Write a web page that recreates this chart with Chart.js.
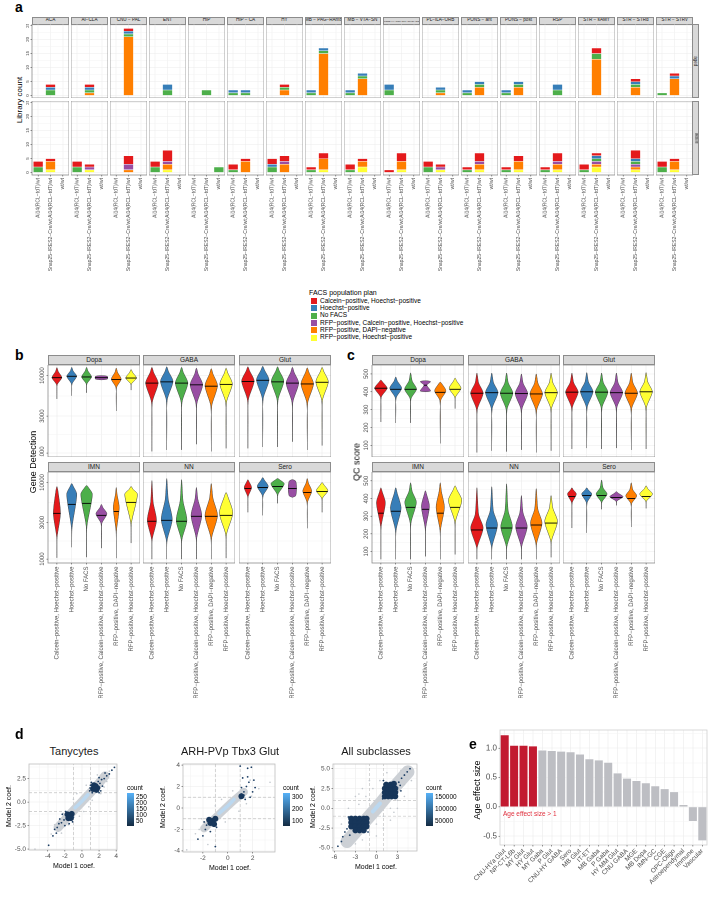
<!DOCTYPE html>
<html><head><meta charset="utf-8">
<script src="https://cdn.jsdelivr.net/npm/chart.js@4.4.1/dist/chart.umd.min.js"></script>
<style>
body{margin:0;background:#fff;}
#root{position:relative;width:714px;height:899px;overflow:hidden;font-family:"Liberation Sans",Arial,sans-serif;background:#fff;}
.t{position:absolute;white-space:nowrap;color:#000;line-height:1;}
.strip{position:absolute;background:#D9D9D9;border:0.8px solid #8C8C8C;box-sizing:border-box;display:flex;align-items:center;justify-content:center;color:#1A1A1A;overflow:hidden;white-space:nowrap;line-height:1;}
canvas{position:absolute;}
</style></head><body><div id="root"></div>
<script>
// ================= DATA =================
const facsPlans = ['Calcein−positive, Hoechst−positive','Hoechst−positive','No FACS','RFP−positive, Calcein−positive, Hoechst−positive','RFP−positive, DAPI−negative','RFP−positive, Hoechst−positive'];
const facsColors = ['#E41A1C','#377EB8','#4DAF4A','#984EA3','#FF7F00','#FFFF33'];

// panel a
const aRegions = ['ACA','AI−CLA','CNU − PAL','ENT','HIP','HIP − CA','HY','MB − PAG−RAmb','MB − VTA−SN','MB−PONS−HY−CNU−OLF−CTXsp−ISOCTX','PL−ILA−ORB','PONS − ant','PONS − post','RSP','STR − sAMY','STR − STRd','STR − STRv'];
const aGenotypes = ['Ai14(RCL−tdT)/wt','Snap25−IRES2−Cre/wt;Ai14(RCL−tdT)/wt','wt/wt'];
const aRowLabels = ['aged','adult'];
const aYTicks = [0,5,10,15,20,25];
// counts per region: [Ai14, Snap25, wt]
const aTopCalcein   = [[0,1,0],[0,1,0],[0,1,0],[0,0,0],[0,0,0],[0,0,0],[0,1,0],[0,0,0],[0,0,0],[0,0,0],[0,0,0],[0,0,0],[0,0,0],[0,0,0],[0,2,0],[0,1,0],[0,1,0]];
const aTopHoechst   = [[0,1,0],[0,1,0],[0,1,0],[0,2,0],[0,0,0],[1,1,0],[0,0,0],[1,1,0],[1,1,0],[2,0,0],[0,1,0],[1,1,0],[1,1,0],[0,2,0],[0,0,0],[0,1,0],[0,1,0]];
const aTopNoFacs    = [[0,2,0],[0,1,0],[0,1,0],[0,2,0],[0,2,0],[1,1,0],[0,1,0],[1,1,0],[1,1,0],[2,0,0],[0,1,0],[1,1,0],[1,1,0],[0,2,0],[0,2,0],[0,1,0],[1,0,0]];
const aTopRfpCalcein= [[0,0,0],[0,0,0],[0,0,0],[0,0,0],[0,0,0],[0,0,0],[0,0,0],[0,0,0],[0,0,0],[0,0,0],[0,0,0],[0,0,0],[0,0,0],[0,0,0],[0,0,0],[0,0,0],[0,0,0]];
const aTopRfpDapi   = [[0,0,0],[0,1,0],[0,21,0],[0,0,0],[0,0,0],[0,0,0],[0,2,0],[0,15,0],[0,6,0],[0,0,0],[0,1,0],[0,3,0],[0,3,0],[0,0,0],[0,13,0],[0,3,0],[0,6,0]];
const aTopRfpHoechst= [[0,0,0],[0,0,0],[0,0,0],[0,0,0],[0,0,0],[0,0,0],[0,0,0],[0,0,0],[0,0,0],[0,0,0],[0,0,0],[0,0,0],[0,0,0],[0,0,0],[0,0,0],[0,0,0],[0,0,0]];
const aBotCalcein   = [[2,1,0],[2,1,0],[0,3,0],[2,4,0],[0,0,0],[2,1,0],[2,2,0],[1,2,0],[2,1,0],[1,3,0],[2,1,0],[1,3,0],[1,2,0],[1,3,0],[2,1,0],[0,3,0],[2,1,0]];
const aBotHoechst   = [[0,0,0],[0,0,0],[0,0,0],[0,0,0],[0,0,0],[0,0,0],[1,0,0],[0,0,0],[0,0,0],[0,0,0],[0,0,0],[0,0,0],[0,0,0],[0,0,0],[0,1,0],[0,1,0],[0,0,0]];
const aBotNoFacs    = [[2,0,0],[2,0,0],[0,0,0],[2,0,0],[0,0,2],[1,0,0],[2,0,0],[1,0,0],[1,0,0],[0,0,0],[2,0,0],[1,0,0],[1,0,0],[1,0,0],[1,1,0],[0,1,0],[2,0,0]];
const aBotRfpCalcein= [[0,0,0],[0,1,0],[0,2,0],[0,1,0],[0,0,0],[0,0,0],[0,1,0],[0,0,0],[0,0,0],[0,0,0],[0,1,0],[0,1,0],[0,0,0],[0,1,0],[0,1,0],[0,1,0],[0,0,0]];
const aBotRfpDapi   = [[0,3,0],[0,0,0],[0,1,0],[0,2,0],[0,0,0],[0,4,0],[0,3,0],[0,4,0],[0,2,0],[0,3,0],[0,0,0],[0,2,0],[0,3,0],[0,2,0],[0,1,0],[0,1,0],[0,3,0]];
const aBotRfpHoechst= [[0,1,0],[0,1,0],[0,0,0],[0,1,0],[0,0,0],[0,0,0],[0,0,0],[0,1,0],[0,2,0],[0,1,0],[0,1,0],[0,1,0],[0,1,0],[0,1,0],[0,2,0],[0,1,0],[0,1,0]];

// panels b, c: violin = [min, bodyLow, widest, bodyHigh, max, median, halfWidth, (halfWidthLow), (halfWidthHigh)]
const violinClasses = ['Dopa','GABA','Glut','IMN','NN','Sero'];
const geneDopa = [[5000,7600,9400,11300,12700,9400,0.33],[5500,7800,9800,11500,12800,9800,0.33],[6000,7800,9600,11500,12800,9600,0.33],[8800,9000,9400,9800,10000,9400,0.42,0.4,0.4],[3500,7000,9000,11000,12500,8900,0.33],[6500,7800,9300,11000,12000,9300,0.36]];
const geneGABA = [[1050,4500,8000,11000,12800,8000,0.42],[1100,4800,8400,11300,13000,8300,0.42],[1100,4500,8000,11000,12800,8000,0.42],[1300,4300,7600,10500,12500,7600,0.42],[1050,4000,7400,10500,12300,7300,0.42],[1150,4500,7800,10800,12500,7700,0.42]];
const geneGlut = [[1150,4800,8500,11500,13000,8400,0.42],[1200,5000,8800,11800,13200,8700,0.42],[1200,4800,8500,11500,13000,8300,0.42],[1400,4500,8000,11000,12800,8000,0.42],[1100,4400,7800,11000,12600,7800,0.42],[1250,4800,8300,11300,12800,8200,0.42]];
const geneIMN = [[1040,1930,3955,7870,8870,3955,0.24],[1430,2600,7000,9000,9700,5180,0.34],[1060,2700,7000,8700,9140,5340,0.39],[1390,2900,3900,4700,5180,3725,0.37],[1030,2300,4700,7000,8610,4180,0.2],[1620,3000,7000,8200,8900,5500,0.43]];
const geneNN  = [[1000,1800,3200,5500,10600,3120,0.31],[1000,1750,3300,6000,11280,3210,0.37],[1000,1800,3200,5700,10900,3120,0.36],[1000,1900,3700,6000,8610,3620,0.36],[1000,1900,3700,6200,9700,3620,0.42],[1030,2100,4000,6500,7400,3725,0.45]];
const geneSero= [[4080,6500,8600,10300,10900,8350,0.25],[3725,6700,8900,10800,11600,8610,0.37],[5340,7000,9600,10900,11280,8870,0.45],[6390,6700,8500,10400,10900,8350,0.28,0.22,0.22],[2530,5500,7700,9800,11280,7400,0.3],[4080,6200,7800,9400,10000,7640,0.39]];
const qcDopa = [[231,370,420,455,466,420,0.42],[226,365,420,460,483,414,0.4],[226,360,415,460,506,414,0.4],[400,405,437,457,462,437,0.1,0.35,0.35],[111,350,405,445,454,397,0.38],[306,370,420,460,477,414,0.4]];
const qcGABA = [[60,300,392,450,505,392,0.42],[70,305,395,452,505,395,0.42],[65,300,392,450,505,392,0.42],[75,300,390,448,500,390,0.42],[60,295,388,448,500,388,0.42],[70,305,395,452,505,395,0.42]];
const qcGlut = [[80,310,398,452,505,398,0.42],[85,312,400,455,508,400,0.42],[80,310,398,452,505,398,0.42],[85,310,395,450,505,395,0.42],[75,305,392,450,505,392,0.42],[80,312,400,455,508,400,0.42]];
const qcIMN = [[56,240,375,440,461,317,0.3],[56,220,345,430,461,328,0.36],[56,260,378,440,489,350,0.39],[72,230,355,425,444,339,0.27],[56,220,350,440,489,317,0.28],[83,270,389,450,472,350,0.45]];
const qcNN  = [[56,125,233,310,461,222,0.42],[56,130,250,330,467,233,0.39],[56,130,240,330,483,233,0.39],[56,130,240,320,417,233,0.39],[56,145,260,340,456,250,0.39],[67,160,270,345,417,261,0.43]];
const qcSero= [[233,375,425,450,461,411,0.3],[206,375,425,450,461,417,0.34],[339,380,425,460,505,417,0.37],[361,385,410,430,439,406,0.45],[239,370,415,450,489,400,0.37],[344,385,425,455,472,411,0.43]];
const geneMajor = [1000,3000,10000], geneMinor = [1732,5477];
const qcMajor = [100,200,300,400,500], qcMinor = [50,150,250,350,450];

// panel d  (points read as [x, y])
const dTitles = ['Tanycytes','ARH-PVp Tbx3 Glut','All subclasses'];
const dCutoff = 1;
const tanyBand = [[-2.8,-2.7],[-1.5,-1.4],[0,0.05],[1.5,1.5],[2.7,2.8]];
const tanyCore = [[-0.8,-0.6],[0,0.1],[0.7,0.8]];
const tanyGrey = [[-3.2,-2.4],[-2.8,-3.1],[-2.2,-1.2],[-1.6,-2.4],[0.8,-0.5],[-0.6,0.9],[2.6,1.6],[1.8,2.9],[2.9,2.2],[-3.6,-3.4],[3.2,3.3],[-5.5,-5.0],[0.5,1.8],[-0.3,-1.5],[1.2,0.2],[-1.0,0.3],[0.2,-1.0],[2.2,0.9],[-2.4,-3.3],[3.1,2.6]];
const tanyBlobs = [[1.3,1.4],[1.6,1.7],[1.8,1.5],[1.4,1.8],[1.7,1.3],[1.5,1.55],[-1.4,-1.4],[-1.6,-1.7],[-1.3,-1.7],[-1.7,-1.3],[-1.2,-1.25],[-1.5,-1.55]];
const tanyDots = [[2.1,2.0],[2.3,2.4],[2.0,2.6],[2.6,2.5],[2.9,2.8],[3.2,3.0],[3.5,3.4],[3.8,3.7],[1.1,2.1],[0.9,1.2],[2.2,1.2],[1.0,1.8],[2.4,1.7],[1.2,1.0],[1.9,2.2],[2.7,3.1],[0.95,1.5],[2.0,1.0],[-2.1,-1.9],[-2.4,-2.2],[-2.0,-2.5],[-2.7,-2.3],[-2.9,-2.7],[-3.2,-2.9],[-1.1,-2.1],[-2.3,-1.3],[-1.9,-1.0],[-3.4,-3.6],[-3.9,-4.6],[-1.0,-1.6],[-2.6,-1.8],[-1.5,-2.3],[-3.0,-3.3]];
const arhBand = [[-1.9,-1.9],[-0.8,-0.7],[0.3,0.5],[1.3,1.5]];
const arhCore = [[-0.7,-0.5],[0,0.2],[0.5,0.8]];
const arhGrey = [[-2.6,-2.4],[-2.1,-1.0],[0.9,-0.3],[-0.5,0.8],[2.5,1.8],[3.4,2.4],[-3.3,-3.9],[1.8,2.6],[1.5,0.4],[-1.6,-3.4],[-2.3,-2.0],[0.4,1.6],[-0.2,-1.3],[1.9,1.1],[-1.0,0.2]];
const arhBlobs = [[-1.2,-1.2],[-1.0,-1.0],[-1.4,-1.4],[-1.1,-1.5],[-1.5,-1.1],[1.1,1.1]];
const arhDots = [[1.0,0.9],[1.1,1.3],[1.3,1.5],[1.5,2.0],[1.7,2.4],[1.2,2.8],[1.6,3.7],[1.9,3.8],[1.0,3.9],[2.0,1.5],[1.4,0.8],[2.2,1.9],[1.8,1.0],[1.1,1.9],[1.6,2.9],[2.1,2.6],[1.3,1.2],[-1.8,-2.0],[-2.0,-2.6],[-1.4,-2.2],[-1.0,-3.6],[-1.7,-1.6],[-0.9,-1.8],[-1.9,-1.3],[-2.4,-2.9]];
const allBand = [[-4.2,-4.2],[-2,-2],[0,0],[2,2.1],[4.5,4.6]];
const allCore = [[-0.5,-0.4],[0.5,0.6]];
const allGrey = [[-5,-2],[-4,0],[-3,1.5],[-2,2.5],[-1,3.5],[0,-3.5],[1,-2.5],[2,-1.5],[3,0],[4,1.5],[-3.5,-1],[-2.5,0.5],[-1.5,1.5],[-0.5,2.5],[0.5,3.5],[1.5,4.5],[-1,-3],[0,-2],[2,0],[3,1],[4,3],[-4.5,-3.5],[-3,-4.5],[3.5,4.8],[5,3.5],[-2,-4],[1,-1],[-1,1],[2.5,-0.5],[-2.5,1.8]];
const allBlobs = [[1.2,1.5],[1.7,1.5],[2.2,1.5],[2.7,1.5],[1.2,2.0],[1.7,2.0],[2.2,2.0],[2.7,2.0],[1.2,2.5],[1.7,2.5],[2.2,2.5],[2.7,2.5],[1.4,3.0],[2.0,3.0],[2.5,3.1],[-3.6,-1.3],[-3.0,-1.3],[-2.4,-1.3],[-1.8,-1.3],[-1.4,-1.3],[-3.6,-1.8],[-3.0,-1.8],[-2.4,-1.8],[-1.8,-1.8],[-1.4,-1.8],[-3.6,-2.3],[-3.0,-2.3],[-2.4,-2.3],[-1.8,-2.3],[-1.4,-2.3],[-3.0,-2.8],[-2.4,-2.8],[-1.8,-2.8]];
const allDots = [[3.2,3.3],[3.6,3.8],[4.0,4.2],[4.4,4.6],[4.8,5.0],[3.0,2.6],[3.4,2.9],[1.0,3.5],[0.9,1.2],[3.5,2.2],[-4.2,-2.6],[-4.5,-3.0],[-3.8,-3.4],[-4.0,-1.1],[-1.2,-3.0],[-5.0,-4.2],[-5.5,-4.8],[-4.8,-3.6]];
const dCountLabels = [['250','200','150','100','50'],['300','200','100'],['150000','100000','50000']];

// panel e
const eLabels = ['CNU-HYa Glut','NP-CT-L6b','MY Glut','HY Glut','MY Gaba','P Glut','CNU-HY GABA','Sero','MB Glut','IT-ET','MB Gaba','P Gaba','HY MM Glut','CNU GABA','MGE','MB Dopa','IMN-GC','CGE','OPC-Oligo','Astroependymal','Immune','Vascular'];
const eValues = [1.23,1.05,1.05,1.04,0.97,0.96,0.95,0.94,0.90,0.82,0.80,0.76,0.58,0.49,0.45,0.41,0.36,0.31,0.26,0.04,-0.25,-0.58];
const eThreshold = 1;

// ================= HELPERS =================
const FONT = '"Liberation Sans", Arial, sans-serif';
const GRID = '#EBEBEB', GRIDMINOR = '#F3F3F3', FRAME = '#8C8C8C', TXT = '#4D4D4D';
const root = document.getElementById('root');

function txt(s, x, y, size, o = {}) {
  const d = document.createElement('div'); d.className = 't'; d.textContent = s;
  d.style.left = x + 'px'; d.style.top = y + 'px'; d.style.fontSize = size + 'px';
  if (o.bold) d.style.fontWeight = 'bold';
  if (o.color) d.style.color = o.color;
  if (o.rot !== undefined) d.style.transform = `translate(-50%,-50%) rotate(${o.rot}deg)`;
  else if (o.center) d.style.transform = 'translate(-50%,0)';
  root.appendChild(d); return d;
}
function strip(x, y, w, h, s, size, vertical) {
  const d = document.createElement('div'); d.className = 'strip';
  d.style.left = x + 'px'; d.style.top = y + 'px'; d.style.width = w + 'px'; d.style.height = h + 'px';
  const sp = document.createElement('span'); sp.textContent = s; sp.style.fontSize = size + 'px';
  if (vertical) sp.style.transform = 'rotate(90deg)';
  d.appendChild(sp); root.appendChild(d);
}
const deco = {
  id: 'deco',
  afterDatasetsDraw(chart, args, o) {
    const ctx = chart.ctx, a = chart.chartArea;
    if (o.frame) { ctx.save(); ctx.strokeStyle = o.frame; ctx.lineWidth = o.frameW || 0.8; ctx.strokeRect(a.left, a.top, a.right - a.left, a.bottom - a.top); ctx.restore(); }
    (o.labels || []).forEach(L => {
      const sc = chart.scales[L.axis];
      ctx.save(); ctx.font = L.font; ctx.fillStyle = L.color || TXT;
      L.vals.forEach((v, i) => {
        let px, py;
        if (L.axis === 'x') { px = sc.getPixelForValue(v); py = a.bottom; } else { px = a.left; py = sc.getPixelForValue(v); }
        if (L.tick) {
          ctx.strokeStyle = '#333'; ctx.lineWidth = 0.5; ctx.beginPath();
          if (L.axis === 'x') { ctx.moveTo(px, py); ctx.lineTo(px, py + L.tick); } else { ctx.moveTo(px, py); ctx.lineTo(px - L.tick, py); }
          ctx.stroke();
        }
        ctx.save();
        if (L.axis === 'x') ctx.translate(px, py + L.off); else ctx.translate(px - L.off, py);
        ctx.rotate(-(L.rot || 0) * Math.PI / 180);
        ctx.textAlign = L.align; ctx.textBaseline = L.base;
        ctx.fillText(L.text[i], 0, 0);
        ctx.restore();
      });
      ctx.restore();
    });
  }
};
Chart.register(deco);

function mk(rect, pad, config) {
  const c = document.createElement('canvas');
  const W = rect.w + pad.l + pad.r, H = rect.h + pad.t + pad.b;
  c.style.left = (rect.x - pad.l) + 'px'; c.style.top = (rect.y - pad.t) + 'px';
  c.style.width = W + 'px'; c.style.height = H + 'px';
  c.width = W; c.height = H;
  root.appendChild(c);
  const o = config.options || {};
  Object.assign(o, { responsive: false, maintainAspectRatio: false, animation: false, devicePixelRatio: 2,
    layout: { padding: { left: pad.l, right: pad.r, top: pad.t, bottom: pad.b } } });
  o.plugins = Object.assign({ legend: { display: false }, tooltip: { enabled: false } }, o.plugins || {});
  config.options = o;
  return new Chart(c, config);
}
function fixedTicks(vals) { return s => { s.ticks = vals.map(v => ({ value: v })); }; }
function gridColor(major) { return c => (c.tick && major.includes(c.tick.value)) ? GRID : GRIDMINOR; }
function xAxis(o) { return Object.assign({ display: true, ticks: { display: false }, border: { display: false }, grid: { drawTicks: false, color: GRID, lineWidth: 0.6 }, afterFit: s => { s.height = 0; } }, o); }
function yAxis(o) { return Object.assign({ display: true, ticks: { display: false }, border: { display: false }, grid: { drawTicks: false, color: GRID, lineWidth: 0.6 }, afterFit: s => { s.width = 0; } }, o); }

// ================= PANEL A =================
txt('a', 15, 0, 14, { bold: true });
const aTopSets = [aTopCalcein, aTopHoechst, aTopNoFacs, aTopRfpCalcein, aTopRfpDapi, aTopRfpHoechst];
const aBotSets = [aBotCalcein, aBotHoechst, aBotNoFacs, aBotRfpCalcein, aBotRfpDapi, aBotRfpHoechst];
const stackOrder = [5, 4, 3, 2, 1, 0];
const aGridTicks = [0, 2.5, 5, 7.5, 10, 12.5, 15, 17.5, 20, 22.5, 25];
aRegions.forEach((reg, i) => {
  const x = 32 + 39 * i;
  strip(x, 17, 37, 7.5, reg, i === 9 ? 2.2 : 4.6);
  [aTopSets, aBotSets].forEach((sets, r) => {
    const rect = { x, y: r ? 101 : 24, w: 37, h: 74 };
    const pad = { l: i === 0 ? 8 : 0, r: 0, t: 0, b: r ? 112 : 0 };
    const labels = [];
    if (i === 0) labels.push({ axis: 'y', vals: aYTicks, text: aYTicks.map(String), font: `4.5px ${FONT}`, rot: 90, align: 'center', base: 'bottom', off: 2, tick: 1.5 });
    if (r === 1) labels.push({ axis: 'x', vals: [0, 1, 2], text: aGenotypes, font: `5px ${FONT}`, rot: 90, align: 'right', base: 'middle', off: 3, tick: 1.5 });
    mk(rect, pad, {
      type: 'bar',
      data: { labels: aGenotypes, datasets: stackOrder.map(k => ({ data: sets[k][i].map(v => v || null), backgroundColor: facsColors[k], borderColor: 'rgba(255,255,255,0.85)', borderWidth: 0.4, barPercentage: 0.82, categoryPercentage: 1 })) },
      options: {
        scales: {
          x: xAxis({ type: 'category', offset: true, stacked: true, grid: { offset: false, drawTicks: false, color: GRID, lineWidth: 0.5 } }),
          y: yAxis({ stacked: true, min: -0.9, max: 25.5, afterBuildTicks: fixedTicks(aGridTicks), grid: { drawTicks: false, color: gridColor(aYTicks), lineWidth: 0.5 } })
        },
        plugins: { deco: { frame: FRAME, labels } }
      }
    });
  });
});
strip(692, 24, 7, 74, aRowLabels[0], 4.6, true);
strip(692, 101, 7, 74, aRowLabels[1], 4.6, true);
txt('Library count', 20, 100, 8, { rot: -90 });
// legend
txt('FACS population plan', 309, 289, 7);
facsPlans.forEach((p, k) => {
  const y = 298 + k * 7.3;
  const sq = document.createElement('div');
  sq.style.cssText = `position:absolute;left:311px;top:${y}px;width:6px;height:6px;background:${facsColors[k]};`;
  root.appendChild(sq);
  txt(p, 320, y - 0.3, 6.5);
});

// ================= PANELS B, C =================
function knotsOf(v) {
  const [mn, lo, pk, hi, mx, med, w, wl, wh] = v;
  return [[mn, 0], [lo, wl ?? 0.07 * w], [pk, w], [hi, wh ?? 0.28 * w], [mx, 0]];
}
function halfWidthAt(v, y, logy) {
  const knots = knotsOf(v);
  const f = logy ? Math.log10 : (t => t);
  for (let i = 0; i < 4; i++) {
    const [y0, w0] = knots[i], [y1, w1] = knots[i + 1];
    if (y >= y0 && y <= y1) { const t = (f(y) - f(y0)) / (f(y1) - f(y0)); return w0 + (w1 - w0) * t; }
  }
  return 0;
}
function violinSets(list, logy) {
  const vio = [], meds = [];
  list.forEach((v, k) => {
    const kn = knotsOf(v);
    const left = kn.map(p => ({ x: k - p[1], y: p[0] }));
    const right = kn.slice(0, 4).reverse().map(p => ({ x: k + p[1], y: p[0] }));
    vio.push({ type: 'scatter', data: left.concat(right), showLine: true, fill: 'shape', backgroundColor: facsColors[k], borderColor: '#444', borderWidth: 0.5, pointRadius: 0, tension: 0.25 });
    const mw = halfWidthAt(v, v[5], logy) * 1.05;
    meds.push({ type: 'scatter', data: [{ x: k - mw, y: v[5] }, { x: k + mw, y: v[5] }], showLine: true, fill: false, borderColor: '#000', borderWidth: 0.9, pointRadius: 0 });
  });
  // index 0 is drawn on top in Chart.js, so medians go first
  return meds.concat(vio);
}
function violinPanel(sets, cols, cfg) {
  sets.forEach((vs, idx) => {
    const r = idx < 3 ? 0 : 1, j = idx % 3;
    const rect = { x: cols[j], y: r ? 472 : 365, w: 92, h: r ? 91 : 92 };
    strip(cols[j], rect.y - 10, 92, 10, violinClasses[idx], 6.5);
    const pad = { l: j === 0 ? 12 : 0, r: 0, t: 0, b: r ? 135 : 0 };
    const labels = [];
    if (j === 0) labels.push({ axis: 'y', vals: cfg.major, text: cfg.major.map(String), font: `6px ${FONT}`, rot: 90, align: 'center', base: 'bottom', off: 2.5, tick: 1.5 });
    if (r === 1) labels.push({ axis: 'x', vals: [0, 1, 2, 3, 4, 5], text: facsPlans, font: `6px ${FONT}`, rot: 90, align: 'right', base: 'middle', off: 3.5, tick: 1.5 });
    mk(rect, pad, {
      type: 'scatter',
      data: { datasets: violinSets(vs, cfg.log) },
      options: {
        scales: {
          x: xAxis({ type: 'linear', min: -0.6, max: 5.6, afterBuildTicks: fixedTicks([0, 1, 2, 3, 4, 5]) }),
          y: yAxis({ type: cfg.log ? 'logarithmic' : 'linear', min: cfg.min, max: cfg.max, afterBuildTicks: fixedTicks(cfg.major.concat(cfg.minor)), grid: { drawTicks: false, color: gridColor(cfg.major), lineWidth: 0.6 } })
        },
        plugins: { deco: { frame: FRAME, labels } }
      }
    });
  });
}
txt('b', 15, 348, 14, { bold: true });
violinPanel([geneDopa, geneGABA, geneGlut, geneIMN, geneNN, geneSero], [48, 143, 239], { log: true, min: 890, max: 13700, major: geneMajor, minor: geneMinor });
txt('Gene Detection', 33, 462, 9, { rot: -90 });
txt('c', 347, 348, 14, { bold: true });
violinPanel([qcDopa, qcGABA, qcGlut, qcIMN, qcNN, qcSero], [372, 468, 563], { log: false, min: 35, max: 550, major: qcMajor, minor: qcMinor });
txt('QC score', 357, 462, 9, { rot: -90 });

// ================= PANEL D =================
txt('d', 15, 727, 14, { bold: true });
const P = a => a.map(p => ({ x: p[0], y: p[1] }));
function dPanel(rect, xr, yr, xMaj, xMin, yMaj, yMin, yFmt, band, core, grey, blobs, dots, bandW, coreW, title, counts, legX) {
  const cut = [
    { x: -dCutoff, v: true }, { x: dCutoff, v: true }, { x: -dCutoff, v: false }, { x: dCutoff, v: false }
  ].map(c => ({ type: 'scatter', showLine: true, pointRadius: 0, borderColor: '#C4C4C4', borderWidth: 0.7, borderDash: [3, 2],
    data: c.v ? [{ x: c.x, y: yr[0] }, { x: c.x, y: yr[1] }] : [{ x: xr[0], y: c.x }, { x: xr[1], y: c.x }] }));
  // listed bottom -> top, then reversed because Chart.js draws dataset 0 last
  const ds = cut.concat([
    { type: 'scatter', showLine: true, data: P(band), pointRadius: 0, borderColor: '#CCD0D5', borderWidth: bandW, borderCapStyle: 'round', tension: 0.4 },
    { type: 'scatter', data: P(grey), pointRadius: 0.8, backgroundColor: '#C3C8CE', borderWidth: 0 },
    { type: 'scatter', showLine: true, data: P(core), pointRadius: 0, borderColor: '#BBD8F0', borderWidth: coreW, borderCapStyle: 'round', tension: 0.4 },
    { type: 'scatter', data: P(blobs), pointRadius: 3, backgroundColor: '#17365A', borderWidth: 0 },
    { type: 'scatter', data: P(dots), pointRadius: 0.9, backgroundColor: '#1B3D63', borderWidth: 0 }
  ]).reverse();
  mk(rect, { l: 24, r: 2, t: 2, b: 14 }, {
    type: 'scatter', data: { datasets: ds },
    options: {
      scales: {
        x: xAxis({ type: 'linear', min: xr[0], max: xr[1], afterBuildTicks: fixedTicks(xMaj.concat(xMin)), grid: { drawTicks: false, color: gridColor(xMaj), lineWidth: 0.6 } }),
        y: yAxis({ type: 'linear', min: yr[0], max: yr[1], afterBuildTicks: fixedTicks(yMaj.concat(yMin)), grid: { drawTicks: false, color: gridColor(yMaj), lineWidth: 0.6 } })
      },
      plugins: { deco: { frame: '#BEBEBE', labels: [
        { axis: 'x', vals: xMaj, text: xMaj.map(String), font: `6.5px ${FONT}`, align: 'center', base: 'top', off: 3, tick: 1.5 },
        { axis: 'y', vals: yMaj, text: yMaj.map(yFmt), font: `6.5px ${FONT}`, align: 'right', base: 'middle', off: 3, tick: 1.5 }
      ] } }
    }
  });
  const cx = rect.x + rect.w / 2;
  txt(title, cx, 746, 11, { center: true, color: '#1A1A1A' });
  txt('Model 1 coef.', cx, rect.y + rect.h + 12, 7, { center: true });
  txt('Model 2 coef.', rect.x - 21, rect.y + rect.h / 2, 7, { rot: -90 });
  // colour bar legend
  txt('count', legX, 785, 6.5);
  const bar = document.createElement('div');
  bar.style.cssText = `position:absolute;left:${legX}px;top:793px;width:7px;height:33px;background:linear-gradient(to top,#132B43,#56B1F7);`;
  root.appendChild(bar);
  counts.forEach((c, k) => {
    const y = 797 + k * (24 / Math.max(1, counts.length - 1));
    txt(c, legX + 9, y - 3, 6.5);
  });
}
dPanel({ x: 29, y: 762, w: 90, h: 88 }, [-6.2, 4.1], [-5.1, 4.06], [-4, -2, 0, 2, 4], [-5, -3, -1, 1, 3], [-5, -2.5, 0, 2.5], [-3.75, -1.25, 1.25, 3.75], v => v.toFixed(1),
  tanyBand, tanyCore, tanyGrey, tanyBlobs, tanyDots, 9, 3.5, dTitles[0], dCountLabels[0], 127);
dPanel({ x: 183, y: 762, w: 94, h: 90 }, [-3.6, 3.8], [-4.1, 4.1], [-2, 0, 2], [-3, -1, 1, 3], [-4, -2, 0, 2, 4], [-3, -1, 1, 3], v => String(v),
  arhBand, arhCore, arhGrey, arhBlobs, arhDots, 8, 3.5, dTitles[1], dCountLabels[1], 283);
dPanel({ x: 333, y: 762, w: 86, h: 89 }, [-6.2, 5.8], [-5.4, 5.6], [-6, -3, 0, 3], [-4.5, -1.5, 1.5, 4.5], [-5, -2.5, 0, 2.5, 5], [-3.75, -1.25, 1.25, 3.75], v => v.toFixed(1),
  allBand, allCore, allGrey, allBlobs, allDots, 13, 4, dTitles[2], dCountLabels[2], 426);

// ================= PANEL E =================
txt('e', 469, 737, 14, { bold: true });
const eMajor = [-0.5, 0, 0.5, 1.0], eMinor = [-0.25, 0.25, 0.75, 1.25];
mk({ x: 500, y: 730, w: 207, h: 115 }, { l: 40, r: 4, t: 2, b: 56 }, {
  type: 'bar',
  data: { labels: eLabels, datasets: [{ data: eValues, backgroundColor: eValues.map(v => v > eThreshold ? '#C21A30' : '#BDBEC3'), borderColor: '#fff', borderWidth: 0.5, barPercentage: 0.96, categoryPercentage: 1 }] },
  options: {
    scales: {
      x: xAxis({ type: 'category', offset: true, grid: { offset: false, drawTicks: false, color: GRID, lineWidth: 0.6 } }),
      y: yAxis({ min: -0.65, max: 1.31, afterBuildTicks: fixedTicks(eMajor.concat(eMinor)), grid: { drawTicks: false, color: gridColor(eMajor), lineWidth: 0.6 } })
    },
    plugins: { deco: { frame: '#D0D0D0', labels: [
      { axis: 'y', vals: eMajor, text: eMajor.map(v => v.toFixed(1)), font: `8px ${FONT}`, align: 'right', base: 'middle', off: 3, tick: 1.5 },
      { axis: 'x', vals: eLabels.map((_, i) => i), text: eLabels, font: `6.5px ${FONT}`, rot: 45, align: 'right', base: 'middle', off: 5, tick: 1.5 }
    ] } }
  }
});
txt('Age effect size', 477, 790, 9, { rot: -90 });
txt('Age effect size > 1', 503, 811, 6.5, { color: '#E0303E' });
</script></body></html>
